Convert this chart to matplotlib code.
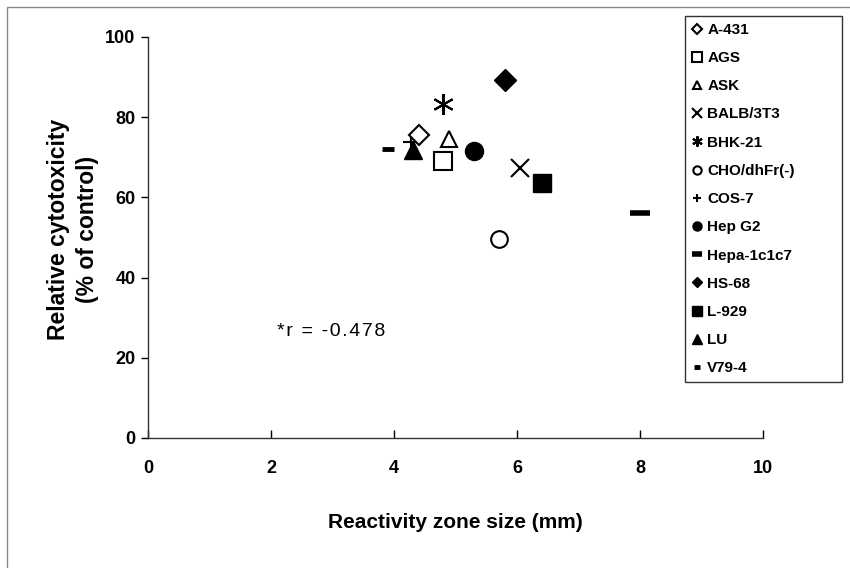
import matplotlib
matplotlib.use("Agg")
import matplotlib.pyplot as plt
from matplotlib.patches import Rectangle

plt.rcParams["font.family"] = ["Liberation Sans", "DejaVu Sans"]

# cell lines, reactivity zone size (mm), relative cytotoxicity (% of control)
cell_lines = ["A-431", "AGS", "ASK", "BALB/3T3", "BHK-21", "CHO/dhFr(-)", "COS-7",
              "Hep G2", "Hepa-1c1c7", "HS-68", "L-929", "LU", "V79-4"]
zone_mm = [4.4, 4.8, 4.9, 6.05, 4.8, 5.7, 4.27, 5.3, 8.0, 5.8, 6.4, 4.3, 3.9]
cytotox = [75.5, 69.0, 74.5, 67.3, 83.3, 49.6, 73.9, 71.6, 56.1, 89.3, 63.6, 71.8, 72.1]

# marker, size, face colour, edge width
styles = [
    ("D", 10, "white", 1.5),
    ("s", 13, "white", 1.5),
    ("^", 12, "white", 1.5),
    ("x", 13, "black", 1.5),
    ((6, 2, 0), 15, "black", 1.5),   # asterisk
    ("o", 12, "white", 1.5),
    ("+", 12, "black", 1.5),
    ("o", 13, "black", 1.0),
    ("_", 15, "black", 4.0),
    ("D", 11, "black", 1.0),
    ("s", 13, "black", 1.0),
    ("^", 13, "black", 1.0),
    ("_", 9, "black", 3.5),
]

fig = plt.figure(figsize=(8.5, 5.68), dpi=100)
ax = fig.add_axes([0.174, 0.229, 0.724, 0.706])

for name, x, y, (m, ms, fc, mew) in zip(cell_lines, zone_mm, cytotox, styles):
    ax.plot([x], [y], linestyle="none", marker=m, markersize=ms,
            markerfacecolor=fc, markeredgecolor="black", markeredgewidth=mew,
            color="black", label=name,
            zorder=2 if name == "COS-7" else 3)

ax.set_xlim(0, 10)
ax.set_ylim(0, 100)
ax.set_xticks([0, 2, 4, 6, 8, 10])
ax.set_yticks([0, 20, 40, 60, 80, 100])
for s in ("top", "right"):
    ax.spines[s].set_visible(False)
for s in ("left", "bottom"):
    ax.spines[s].set_linewidth(1.0)
    ax.spines[s].set_color("#333333")
ax.tick_params(axis="x", direction="in", length=6, width=1, pad=16,
               labelsize=13)
ax.tick_params(axis="y", direction="out", length=5, width=1, pad=4,
               labelsize=13)
for lab in ax.get_xticklabels() + ax.get_yticklabels():
    lab.set_fontweight("bold")

ax.set_xlabel("Reactivity zone size (mm)", fontsize=15, fontweight="bold",
              labelpad=26)
ax.set_ylabel("Relative cytotoxicity\n(% of control)", fontsize=16.5,
              fontweight="bold", linespacing=1.3)
ax.yaxis.set_label_coords(-0.08, 0.52)

ax.text(2.1, 26.5, "\u200a".join("*r = -0.478"), fontsize=14,
        ha="left", va="center")

leg = ax.legend(loc="upper left",
                bbox_to_anchor=(685 / 850, 1 - 388 / 568, 157 / 850, 372 / 568),
                bbox_transform=fig.transFigure, mode="expand",
                frameon=True, fancybox=False,
                markerscale=0.5, handlelength=0.7, handletextpad=0.3,
                labelspacing=0.93, borderpad=0.45, borderaxespad=0,
                prop={"weight": "bold", "size": 11})
leg.get_frame().set_edgecolor("black")
leg.get_frame().set_linewidth(1.0)

# outer frame of the figure
fig.patches.append(Rectangle((7 / 850, -0.1), 1.2, 1.1 - 7 / 568,
                             transform=fig.transFigure, fill=False,
                             edgecolor="#888888", linewidth=1.0))

fig.savefig("out.png", dpi=100)
